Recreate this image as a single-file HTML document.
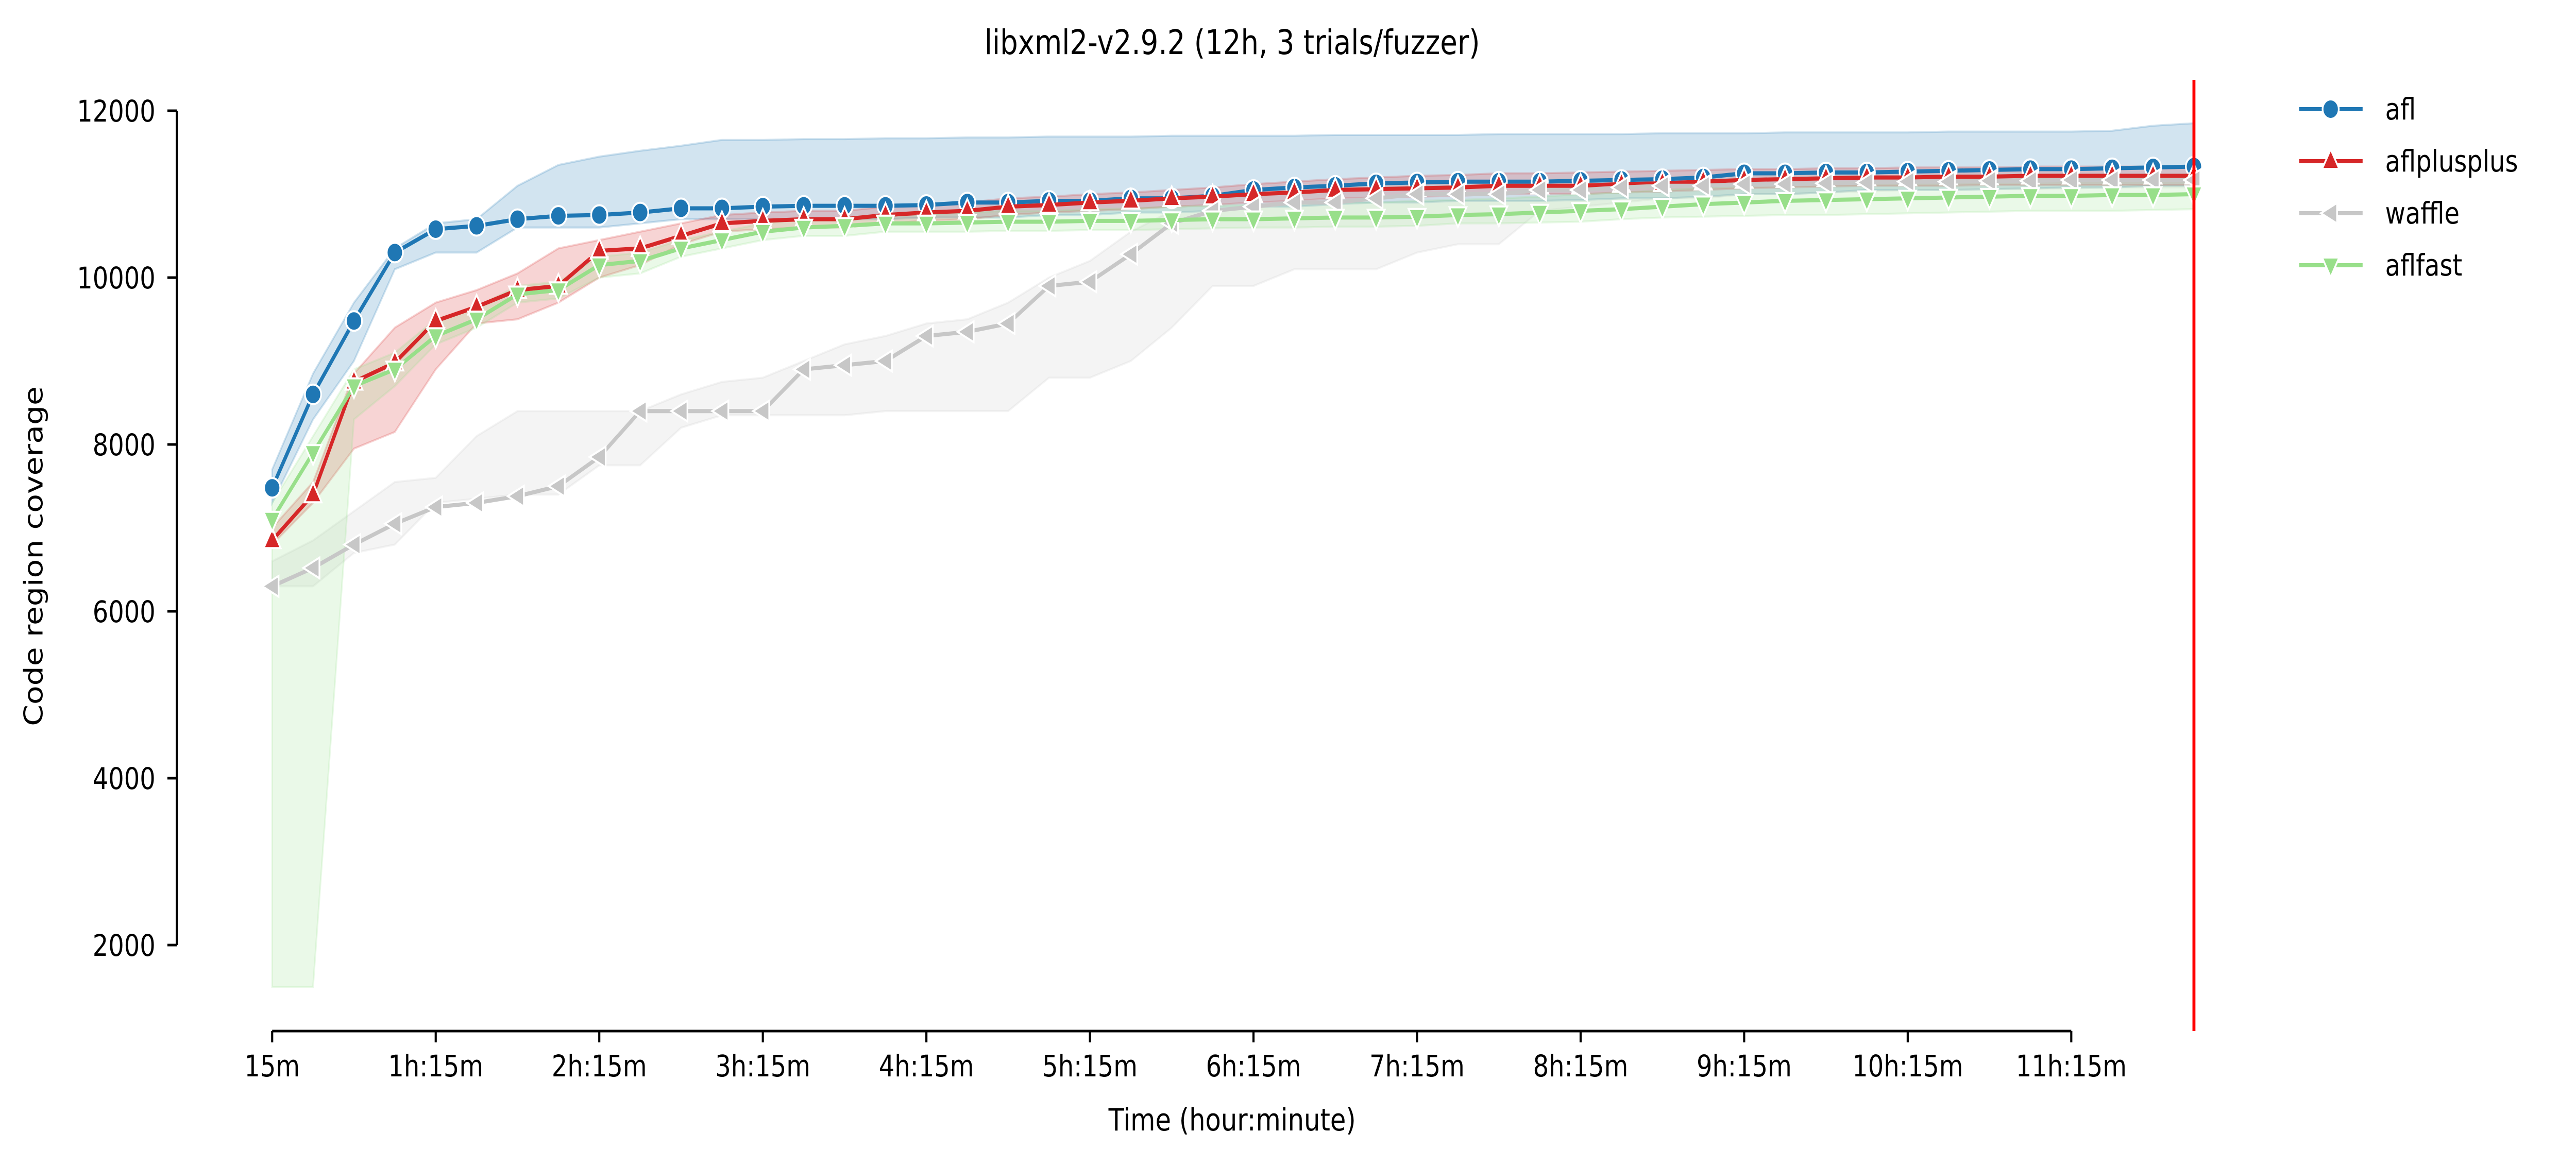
<!DOCTYPE html>
<html><head><meta charset="utf-8"><meta name="viewport" content="width=6048, height=2264, initial-scale=1">
<style>
html,body{margin:0;padding:0;background:#fff;width:100%;height:100%;overflow:hidden;}
svg{display:block;position:absolute;left:0;top:0;width:100vw;height:100vh;font-family:"DejaVu Sans","Liberation Sans",sans-serif;}
</style></head><body>
<svg id="chart" viewBox="0 0 6048 2264" preserveAspectRatio="none" xmlns="http://www.w3.org/2000/svg">
<text x="2893" y="105" font-size="66" text-anchor="middle">libxml2-v2.9.2 (12h, 3 trials/fuzzer)</text>
<text x="2893" y="2195" font-size="60" text-anchor="middle">Time (hour:minute)</text>
<text transform="translate(100,1080) rotate(-90)" font-size="60" text-anchor="middle">Code region coverage</text>
<g id="bands"></g><g id="lines"></g><g id="axes"></g><g id="legend"></g>
</svg>
<script>
const afl=[7480,8600,9480,10300,10580,10620,10700,10740,10750,10780,10830,10830,10850,10860,10860,10860,10870,10900,10900,10920,10920,10950,10950,10980,11050,11080,11100,11130,11140,11150,11150,11150,11160,11170,11180,11200,11250,11250,11260,11260,11270,11280,11290,11300,11300,11310,11320,11330];
const aflHigh=[7700,8850,9700,10350,10650,10700,11100,11350,11450,11520,11580,11650,11650,11660,11660,11670,11670,11680,11680,11690,11690,11690,11700,11700,11700,11700,11710,11710,11710,11710,11720,11720,11720,11720,11730,11730,11730,11740,11740,11740,11740,11750,11750,11750,11750,11760,11820,11850];
const aflLow=[7300,8300,9000,10100,10300,10300,10600,10600,10600,10650,10700,10700,10700,10700,10700,10700,10720,10720,10720,10750,10750,10780,10780,10800,10850,10850,10880,10900,10900,10920,10920,10920,10930,10950,10950,10970,11000,11000,11020,11050,11050,11050,11060,11070,11080,11080,11100,11100];
const aflpp=[6850,7400,8750,8980,9480,9650,9850,9900,10320,10350,10500,10650,10680,10700,10700,10750,10780,10800,10850,10870,10900,10920,10950,10970,11000,11020,11050,11060,11070,11080,11100,11100,11100,11120,11130,11150,11170,11180,11190,11200,11200,11210,11210,11220,11220,11220,11220,11220];
const aflppHigh=[7000,7550,8850,9400,9700,9850,10050,10350,10450,10550,10650,10750,10780,10800,10800,10850,10880,10900,10950,10970,11000,11020,11050,11080,11120,11150,11180,11200,11220,11230,11250,11250,11260,11270,11280,11290,11300,11300,11310,11310,11320,11320,11320,11330,11330,11330,11330,11330];
const aflppLow=[6800,7300,7950,8150,8900,9450,9500,9700,10000,10150,10400,10550,10580,10600,10600,10650,10680,10700,10750,10780,10800,10820,10850,10870,10900,10920,10950,10960,10970,10980,11000,11000,11000,11020,11030,11050,11070,11080,11090,11100,11100,11100,11110,11110,11110,11110,11110,11110];
const waffle=[6300,6520,6800,7050,7250,7300,7380,7500,7850,8400,8400,8400,8400,8900,8950,9000,9300,9350,9450,9900,9950,10280,10650,10800,10850,10900,10900,10950,11000,11000,11000,11050,11050,11080,11100,11100,11120,11120,11130,11140,11150,11150,11160,11160,11170,11170,11170,11170];
const waffleHigh=[6600,6850,7200,7550,7600,8100,8400,8400,8400,8400,8600,8750,8800,9000,9200,9300,9450,9500,9700,10000,10200,10550,10800,10950,11000,11050,11100,11100,11150,11150,11150,11180,11200,11200,11200,11220,11220,11220,11230,11230,11230,11230,11240,11240,11240,11240,11240,11240];
const waffleLow=[6300,6300,6700,6800,7300,7350,7400,7400,7750,7750,8200,8350,8350,8350,8350,8400,8400,8400,8400,8800,8800,9000,9400,9900,9900,10100,10100,10100,10300,10400,10400,10800,10850,10900,10950,10950,11000,11000,11020,11030,11050,11050,11060,11060,11070,11080,11080,11080];
const aflfast=[7100,7900,8700,8900,9300,9500,9800,9850,10150,10200,10350,10450,10550,10600,10620,10650,10650,10660,10670,10670,10680,10680,10690,10700,10700,10710,10720,10720,10730,10750,10760,10780,10800,10820,10850,10880,10900,10920,10930,10940,10950,10960,10970,10980,10980,10990,10990,11000];
const aflfastHigh=[7300,8100,8900,9100,9500,9650,9900,9950,10250,10300,10450,10550,10650,10700,10720,10750,10760,10780,10800,10800,10820,10830,10850,10860,10870,10880,10900,10900,10920,10930,10950,10970,11000,11020,11050,11080,11100,11120,11130,11140,11150,11160,11170,11180,11180,11190,11190,11200];
const aflfastLow=[1500,1500,8300,8700,9200,9400,9700,9750,10000,10050,10250,10350,10450,10500,10500,10550,10550,10550,10560,10560,10570,10570,10580,10590,10600,10600,10610,10610,10620,10650,10650,10660,10670,10700,10720,10730,10740,10750,10750,10760,10770,10780,10790,10800,10800,10800,10810,10820];
const yTicks=[2000,4000,6000,8000,10000,12000];
const xTickLabels=["15m","1h:15m","2h:15m","3h:15m","4h:15m","5h:15m","6h:15m","7h:15m","8h:15m","9h:15m","10h:15m","11h:15m"];
const legendNames=["afl","aflplusplus","waffle","aflfast"];

const NS="http://www.w3.org/2000/svg";
const X=i=>639+i*96;
const Y=v=>215+(12000-v)*0.162;
function mk(tag,attrs,parent){const e=document.createElementNS(NS,tag);for(const k in attrs)e.setAttribute(k,attrs[k]);parent.appendChild(e);return e;}
const bands=document.getElementById('bands'),lines=document.getElementById('lines'),axes=document.getElementById('axes'),legend=document.getElementById('legend');

const series=[
 {name:"afl",v:afl,hi:aflHigh,lo:aflLow,c:"#1f77b4",m:"circle"},
 {name:"aflplusplus",v:aflpp,hi:aflppHigh,lo:aflppLow,c:"#d62728",m:"up"},
 {name:"waffle",v:waffle,hi:waffleHigh,lo:waffleLow,c:"#c7c7c7",m:"left"},
 {name:"aflfast",v:aflfast,hi:aflfastHigh,lo:aflfastLow,c:"#98df8a",m:"down"}];

function marker(type,cx,cy,color,parent,r){
  let e;
  if(type==="circle"){e=mk('circle',{cx:cx,cy:cy,r:r,fill:color,stroke:"#fff","stroke-width":4},parent);}
  else{
    let p;
    if(type==="up")p=[[0,-r*1.15],[r,r*0.75],[-r,r*0.75]];
    else if(type==="down")p=[[0,r*1.15],[r,-r*0.75],[-r,-r*0.75]];
    else p=[[-r*1.15,0],[r*0.75,-r],[r*0.75,r]];
    e=mk('polygon',{points:p.map(q=>(cx+q[0])+","+(cy+q[1])).join(" "),fill:color,stroke:"#fff","stroke-width":4},parent);
  }
  return e;
}

series.forEach(s=>{
  let d="M"+s.hi.map((v,i)=>X(i)+","+Y(v)).join("L");
  for(let i=s.lo.length-1;i>=0;i--)d+="L"+X(i)+","+Y(s.lo[i]);
  const b=mk('path',{d:d+"Z",fill:s.c,"fill-opacity":0.2,stroke:s.c,"stroke-opacity":0.2,"stroke-width":4},bands);
  
  
});
series.forEach(s=>{
  const g=mk('g',{},lines);
  
  
  const l=mk('polyline',{points:s.v.map((v,i)=>X(i)+","+Y(v)).join(" "),fill:"none",stroke:s.c,"stroke-width":8,"stroke-linejoin":"round"},g);
  
  
  s.v.forEach((v,i)=>{
    const m=marker(s.m,X(i),Y(v),s.c,g,s.m==="circle"?19:20);
    
    
  });
});

const ya=mk('line',{x1:415,y1:Y(12000),x2:415,y2:Y(2000),stroke:"#000","stroke-width":5},axes);


yTicks.forEach(t=>{
  mk('line',{x1:393,y1:Y(t),x2:415,y2:Y(t),stroke:"#000","stroke-width":5},axes);
  const tx=mk('text',{x:365,y:Y(t)+21,"font-size":58,"text-anchor":"end"},axes);
  tx.textContent=t;
  
  
});
const xa=mk('line',{x1:X(0),y1:2002,x2:X(44),y2:2002,stroke:"#000","stroke-width":5},axes);


xTickLabels.forEach((lab,k)=>{
  mk('line',{x1:X(k*4),y1:2002,x2:X(k*4),y2:2024,stroke:"#000","stroke-width":5},axes);
  const tx=mk('text',{x:X(k*4),y:2090,"font-size":58,"text-anchor":"middle"},axes);
  tx.textContent=lab;
  
  
});
const rl=mk('line',{x1:X(47),y1:155,x2:X(47),y2:2002,stroke:"#ff0000","stroke-width":7},axes);



legendNames.forEach((n,k)=>{
  const s=series[k];const y=212+k*101;
  const g=mk('g',{},legend);
  
  
  mk('line',{x1:5398,y1:y,x2:5547,y2:y,stroke:s.c,"stroke-width":8},g);
  marker(s.m,5472,y,s.c,g,s.m==="circle"?19:20);
  const t=mk('text',{x:5600,y:y+20,"font-size":58},g);
  t.textContent=n;
});
</script>
</body></html>
